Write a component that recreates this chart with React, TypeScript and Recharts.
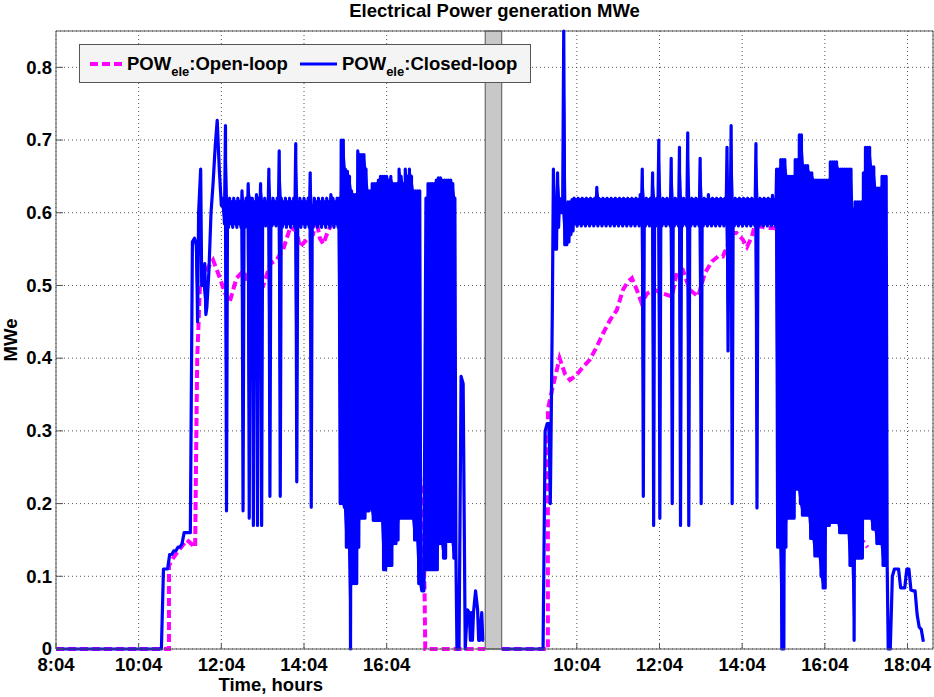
import React from 'react';
import {
  ComposedChart,
  Line,
  Area,
  XAxis,
  YAxis,
  CartesianGrid,
  ReferenceArea,
  ReferenceLine,
  Legend,
  Label,
} from 'recharts';

const FONT = '"Liberation Sans", Arial, Helvetica, sans-serif';

// ---- time axis (minutes after midnight) ----
const day1Start = 484; // 8:04
const day1End = 1107; // 18:27
const day2Start = 495; // 8:15
const day2End = 1121; // 18:41
const sampleStep = 3; // minutes per closed-loop bin
const day2Shift = 636; // day-2 clock minutes are placed after day 1 on one shared axis

const yTicks = [0, 0.1, 0.2, 0.3, 0.4, 0.5, 0.6, 0.7, 0.8];
const day1TickLabels = ['8:04', '10:04', '12:04', '14:04', '16:04'];
const day2TickLabels = ['10:04', '12:04', '14:04', '16:04', '18:04'];

// ---- closed-loop electrical power (MWe), 3-min bins; a pair = two readings inside the bin, in order ----
type Bin = number | number[];

const closedLoopDay1: Bin[] = [
  0, 0, 0, 0, 0, 0, 0, 0, 0, 0, 0, 0, 0, 0, 0, 0, 0, 0, 0, 0,
  0, 0, 0, 0, 0, 0, 0, 0, 0, 0, 0, 0, 0, 0, 0, 0, 0, 0, 0, 0,
  0, 0, 0, 0, 0, 0, 0, 0, 0, 0, 0, 0,
  0.11, 0.11, 0.11, 0.13, 0.13, 0.135, 0.135, 0.14, 0.14, 0.145, 0.16, 0.16, 0.16, 0.16,
  0.56, 0.565, [0.555, 0.45], 0.6, [0.66, 0.5], 0.5, [0.53, 0.46], 0.47, 0.52, 0.6, 0.64, 0.69, 0.727, 0.66, 0.61,
  [0.62, 0.585], [0.72, 0.19], [0.615, 0.58], [0.62, 0.585], [0.615, 0.58], [0.62, 0.585], [0.615, 0.58],
  [0.62, 0.585], [0.615, 0.58], [0.63, 0.19], [0.615, 0.58], [0.62, 0.585], [0.64, 0.18], [0.62, 0.585],
  [0.62, 0.17], [0.615, 0.585], [0.625, 0.17], [0.62, 0.585], [0.64, 0.17], [0.615, 0.585],
  [0.62, 0.582], [0.615, 0.585], [0.66, 0.21], [0.615, 0.582], [0.62, 0.585], [0.615, 0.582], [0.62, 0.585],
  [0.685, 0.21], [0.62, 0.58], [0.615, 0.585], [0.62, 0.58], [0.615, 0.585], [0.62, 0.58], [0.615, 0.585],
  [0.62, 0.58], [0.695, 0.23], [0.615, 0.585], [0.62, 0.58], [0.615, 0.585], [0.62, 0.58],
  [0.615, 0.585], [0.62, 0.58], [0.655, 0.195], [0.61, 0.58], [0.62, 0.585], [0.615, 0.58], [0.62, 0.585],
  [0.615, 0.58], [0.62, 0.585], [0.615, 0.58], [0.62, 0.585], [0.615, 0.58], [0.625, 0.585], [0.62, 0.58],
  [0.615, 0.585], [0.62, 0.58],
  [0.62, 0.2], [0.7, 0.2], [0.7, 0.195], [0.66, 0.14], [0.657, 0.14], [0.65, 0], [0.63, 0.09], [0.625, 0.09],
  [0.625, 0.09], [0.685, 0.14], [0.68, 0.18], [0.68, 0.18], [0.68, 0.18], [0.66, 0.19], [0.63, 0.19],
  [0.63, 0.193], [0.64, 0.177], [0.64, 0.177], [0.64, 0.177], [0.645, 0.177], [0.65, 0.177], [0.65, 0.109],
  [0.65, 0.109], [0.65, 0.115], [0.645, 0.115], [0.65, 0.115], [0.64, 0.145], [0.64, 0.145], [0.64, 0.15],
  [0.66, 0.18], [0.65, 0.18], [0.64, 0.18], [0.66, 0.18], [0.65, 0.18], [0.66, 0.18], [0.65, 0.18],
  [0.63, 0.15], [0.63, 0.15], [0.63, 0.09], [0.63, 0.09], 0.08, 0.08,
  [0.62, 0.109], [0.64, 0.109], [0.64, 0.109], [0.64, 0.109], [0.64, 0.109], [0.645, 0.109], [0.648, 0.145],
  [0.648, 0.145], [0.645, 0.125], [0.645, 0.125], [0.645, 0.148], [0.645, 0.148], [0.645, 0.148],
  [0.64, 0.125], [0.62, 0.13],
  0, 0, 0.375, 0.365, 0, 0.054, [0.05, 0.012], [0.05, 0.012], 0.05, 0.08, [0.054, 0.012], 0.012,
  [0.05, 0.012], 0.012,
];

const closedLoopDay2: Bin[] = [
  0, 0, 0, 0, 0, 0, 0, 0, 0, 0, 0, 0, 0, 0, 0, 0, 0, 0, 0, 0, 0,
  0.3, 0.31, [0.31, 0.2], [0.33, 0.47], [0.66, 0.55], [0.62, 0.55], [0.655, 0.58], [0.62, 0.6], [0.6, 0.62],
  [0.85, 0.556], [0.61, 0.556], [0.615, 0.56], [0.615, 0.57], [0.618, 0.575],
  [0.62, 0.585], [0.618, 0.582], [0.62, 0.585], [0.618, 0.582], [0.62, 0.585], [0.618, 0.582], [0.62, 0.585],
  [0.618, 0.582], [0.62, 0.585], [0.618, 0.582], [0.62, 0.585], [0.635, 0.582], [0.62, 0.585], [0.618, 0.582],
  [0.62, 0.585], [0.618, 0.582], [0.62, 0.585], [0.618, 0.582], [0.62, 0.585], [0.618, 0.582], [0.62, 0.585],
  [0.618, 0.582], [0.62, 0.585], [0.618, 0.582], [0.62, 0.585], [0.618, 0.582], [0.62, 0.585], [0.618, 0.582],
  [0.62, 0.585], [0.618, 0.582], [0.62, 0.585], [0.618, 0.582], [0.625, 0.585],
  [0.66, 0.21], [0.618, 0.582], [0.62, 0.585], [0.618, 0.582], [0.62, 0.585], [0.655, 0.17], [0.618, 0.582],
  [0.62, 0.585], [0.7, 0.18], [0.618, 0.582], [0.62, 0.585], [0.618, 0.582], [0.62, 0.585], [0.618, 0.582],
  [0.675, 0.2], [0.618, 0.582], [0.62, 0.585], [0.618, 0.582], [0.69, 0.17], [0.618, 0.582], [0.62, 0.585],
  [0.618, 0.582], [0.71, 0.17], [0.618, 0.582], [0.62, 0.585], [0.618, 0.582], [0.62, 0.585], [0.618, 0.582],
  [0.675, 0.2],
  [0.618, 0.582], [0.62, 0.585], [0.618, 0.582], [0.625, 0.585], [0.618, 0.582], [0.62, 0.585], [0.618, 0.582],
  [0.62, 0.585], [0.618, 0.582], [0.62, 0.585], [0.618, 0.582], [0.62, 0.585],
  [0.69, 0.41], [0.618, 0.582], [0.72, 0.2],
  [0.618, 0.582], [0.62, 0.585], [0.618, 0.582], [0.62, 0.585], [0.618, 0.582], [0.62, 0.585], [0.618, 0.582],
  [0.62, 0.585], [0.618, 0.582], [0.62, 0.585], [0.618, 0.582],
  [0.695, 0.194],
  [0.618, 0.582], [0.62, 0.585], [0.618, 0.582], [0.62, 0.585], [0.618, 0.582], [0.62, 0.585], [0.618, 0.582],
  [0.624, 0.585], [0.618, 0.582],
  [0.66, 0.14], [0.66, 0.14], [0.673, 0], [0.673, 0], [0.673, 0.14], [0.65, 0.18], [0.65, 0.18], [0.65, 0.18],
  [0.65, 0.18], [0.673, 0.22], [0.673, 0.22], [0.707, 0.2], [0.707, 0.184], [0.665, 0.184], [0.665, 0.184],
  [0.665, 0.184], [0.655, 0.152], [0.655, 0.152], [0.645, 0.128], [0.645, 0.128], [0.645, 0.128], [0.645, 0.1],
  [0.645, 0.084], [0.645, 0.084], [0.645, 0.17], [0.645, 0.17], [0.67, 0.174], [0.67, 0.174], [0.67, 0.174],
  [0.67, 0.174], [0.66, 0.16], [0.66, 0.16], [0.66, 0.16], [0.66, 0.16], [0.66, 0.16], [0.66, 0.115],
  [0.66, 0.115], [0.605, 0.012], [0.615, 0.125], [0.615, 0.125], [0.615, 0.125], [0.615, 0.125], [0.655, 0.18],
  [0.69, 0.18], [0.69, 0.18], [0.69, 0.18], [0.663, 0.165], [0.663, 0.165], [0.634, 0.145], [0.634, 0.145],
  [0.634, 0.145], [0.65, 0.115], [0.65, 0.115], [0.65, 0.115], 0, 0,
  0.1, 0.11, 0.11, 0.11, 0.084, 0.084, 0.084, 0.11, 0.11, 0.081, 0.08, 0.08, 0.047, 0.03, 0.027, 0.01,
];

// ---- open-loop electrical power (MWe): [clock minutes, value] ----
const openLoopDay1: [number, number][] = [
  [484, 0], [648, 0], [648, 0.115], [654, 0.125], [664, 0.138], [674, 0.15], [686, 0.14],
  [688, 0.32], [689, 0.4], [693, 0.5], [698, 0.51], [705, 0.525], [712, 0.535], [722, 0.51],
  [729, 0.49], [736, 0.477], [746, 0.51], [756, 0.52], [765, 0.5], [775, 0.505], [785, 0.5],
  [795, 0.53], [804, 0.535], [814, 0.55], [824, 0.58], [833, 0.575], [838, 0.553], [848, 0.563],
  [857, 0.57], [862, 0.59], [867, 0.565], [872, 0.557], [877, 0.57], [884, 0.585], [891, 0.605],
  [903, 0.58], [925, 0.5], [951, 0.43], [976, 0.38], [998, 0.3], [1012, 0.24], [1016, 0.2],
  [1019, 0.08], [1020, 0], [1107, 0],
];

const openLoopDay2: [number, number][] = [
  [495, 0], [562, 0], [562, 0.33], [569, 0.36], [579, 0.4], [587, 0.378], [594, 0.37], [603, 0.376],
  [613, 0.388], [623, 0.398], [633, 0.416], [642, 0.434], [652, 0.452], [662, 0.466], [671, 0.494],
  [678, 0.505], [684, 0.51], [691, 0.494], [698, 0.476], [706, 0.489], [717, 0.494], [729, 0.489],
  [742, 0.485], [749, 0.517], [758, 0.521], [768, 0.494], [780, 0.485], [790, 0.517], [800, 0.533],
  [809, 0.54], [816, 0.54], [822, 0.553], [829, 0.572], [836, 0.572], [845, 0.563], [851, 0.553],
  [858, 0.567], [862, 0.581], [870, 0.581], [881, 0.579], [891, 0.579], [899, 0.576], [903, 0.535],
  [906, 0.494], [932, 0.4], [971, 0.33], [1012, 0.28], [1018, 0.15], [1026, 0.14],
];

// ---- derived tables ----
const toMinutes = (label: string) => {
  const [h, m] = label.split(':').map(Number);
  return h * 60 + m;
};

const xTicks = [
  ...day1TickLabels.map(toMinutes),
  ...day2TickLabels.map((l) => toMinutes(l) + day2Shift),
];
const xTickText: Record<number, string> = {};
day1TickLabels.forEach((l) => (xTickText[toMinutes(l)] = l));
day2TickLabels.forEach((l) => (xTickText[toMinutes(l) + day2Shift] = l));

// a bin's readings are spread evenly across its 3 minutes
const expandBins = (bins: Bin[], start: number, shift: number) =>
  bins.flatMap((b, i) => {
    const readings = Array.isArray(b) ? b : [b];
    return readings.map((v, k) => ({
      t: start + i * sampleStep + shift + (k * sampleStep) / readings.length,
      v,
    }));
  });

// min–max envelope of each bin (filled, so dense oscillation reads as a solid band)
const envelope = (bins: Bin[], start: number, shift: number) =>
  bins.map((b, i) => {
    const readings = Array.isArray(b) ? b : [b];
    return {
      t: start + i * sampleStep + shift + (readings.length > 1 ? sampleStep / 4 : 0),
      range: [Math.min(...readings), Math.max(...readings)],
    };
  });

const closedDay1Data = expandBins(closedLoopDay1, day1Start, 0);
const closedDay2Data = expandBins(closedLoopDay2, day2Start, day2Shift);
const closedDay1Env = envelope(closedLoopDay1, day1Start, 0);
const closedDay2Env = envelope(closedLoopDay2, day2Start, day2Shift);
const openDay1Data = openLoopDay1.map(([m, v]) => ({ t: m, v }));
const openDay2Data = openLoopDay2.map(([m, v]) => ({ t: m + day2Shift, v }));

const xDomain = [day1Start, day2End + day2Shift];
const gapStart = day1End;
const gapEnd = day2Start + day2Shift;

const MAGENTA = '#ff00ff';
const BLUE = '#0000ff';
const FRAME = '#555555';

const XTick = (props: any) => {
  const { x, y, payload } = props;
  return (
    <g>
      <line x1={x} y1={y} x2={x} y2={y - 6} stroke={FRAME} strokeWidth={1} />
      <text x={x} y={y + 22} textAnchor="middle" fontFamily={FONT} fontWeight="bold" fontSize={18.5} fill="#000">
        {xTickText[payload.value]}
      </text>
    </g>
  );
};

const YTick = (props: any) => {
  const { x, y, payload } = props;
  return (
    <g>
      <line x1={x + 4} y1={y} x2={x + 11} y2={y} stroke={FRAME} strokeWidth={1} />
      <text x={x} y={y} dy={6.3} textAnchor="end" fontFamily={FONT} fontWeight="bold" fontSize={18.5} fill="#000">
        {String(payload.value)}
      </text>
    </g>
  );
};

const Sub = ({ children }: { children: React.ReactNode }) => (
  <span style={{ fontSize: 13, position: 'relative', top: 6 }}>{children}</span>
);

const LegendBox = () => (
  <div
    style={{
      boxSizing: 'border-box',
      width: 452,
      height: 39,
      border: '1px solid #555',
      background: '#f4f4f4',
      display: 'flex',
      alignItems: 'center',
      fontFamily: FONT,
      fontWeight: 'bold',
      fontSize: 18.5,
      color: '#000',
      whiteSpace: 'nowrap',
    }}
  >
    <svg width={32} height={8} style={{ marginLeft: 10 }}>
      <line x1={0} y1={4} x2={32} y2={4} stroke={MAGENTA} strokeWidth={4} strokeDasharray="8 4" />
    </svg>
    <span style={{ marginLeft: 5 }}>
      POW<Sub>ele</Sub>:Open-loop
    </span>
    <svg width={37} height={8} style={{ marginLeft: 12 }}>
      <line x1={0} y1={4} x2={37} y2={4} stroke={BLUE} strokeWidth={3} />
    </svg>
    <span style={{ marginLeft: 5 }}>
      POW<Sub>ele</Sub>:Closed-loop
    </span>
  </div>
);

export default function App() {
  return (
    <div style={{ position: 'absolute', left: 0, top: 0, width: 934, height: 697, background: '#fff' }}>
      <div
        style={{
          position: 'absolute',
          left: 56,
          top: 0,
          width: 877,
          textAlign: 'center',
          fontFamily: FONT,
          fontWeight: 'bold',
          fontSize: 18.5,
          lineHeight: '21px',
          color: '#000',
        }}
      >
        Electrical Power generation MWe
      </div>
      <ComposedChart width={934} height={697} margin={{ top: 31, right: 1, bottom: 0, left: 0 }}>
        <CartesianGrid stroke="#555" strokeDasharray="1 3" />
        <XAxis
          type="number"
          dataKey="t"
          domain={xDomain}
          ticks={xTicks}
          interval={0}
          height={48}
          tickSize={0}
          tickMargin={0}
          tickLine={false}
          axisLine={{ stroke: FRAME }}
          tick={<XTick />}
        >
          <Label
            content={() => (
              <text x={270.7} y={691} textAnchor="middle" fontFamily={FONT} fontWeight="bold" fontSize={18.5} fill="#000">
                Time, hours
              </text>
            )}
          />
        </XAxis>
        <YAxis
          type="number"
          domain={[0, 0.85]}
          ticks={yTicks}
          interval={0}
          width={56}
          tickSize={0}
          tickMargin={4}
          tickLine={false}
          axisLine={{ stroke: FRAME }}
          tick={<YTick />}
        >
          <Label
            content={() => (
              <text
                transform="translate(17,340) rotate(-90)"
                textAnchor="middle"
                fontFamily={FONT}
                fontWeight="bold"
                fontSize={18.5}
                fill="#000"
              >
                MWe
              </text>
            )}
          />
        </YAxis>
        <ReferenceLine y={0.85} stroke={FRAME} strokeWidth={1} />
        <ReferenceLine x={xDomain[1]} stroke={FRAME} strokeWidth={1} />
        <ReferenceArea
          x1={gapStart}
          x2={gapEnd}
          y1={0}
          y2={0.85}
          fill="#c8c8c8"
          fillOpacity={1}
          stroke={FRAME}
          strokeWidth={1}
        />
        <Line
          data={openDay1Data}
          dataKey="v"
          type="linear"
          stroke={MAGENTA}
          strokeWidth={4}
          strokeDasharray="8 4"
          dot={false}
          isAnimationActive={false}
        />
        <Line
          data={openDay2Data}
          dataKey="v"
          type="linear"
          stroke={MAGENTA}
          strokeWidth={4}
          strokeDasharray="8 4"
          dot={false}
          isAnimationActive={false}
        />
        <Line
          data={closedDay1Data}
          dataKey="v"
          type="linear"
          stroke={BLUE}
          strokeWidth={3.2}
          strokeLinejoin="round"
          dot={false}
          isAnimationActive={false}
        />
        <Line
          data={closedDay2Data}
          dataKey="v"
          type="linear"
          stroke={BLUE}
          strokeWidth={3.2}
          strokeLinejoin="round"
          dot={false}
          isAnimationActive={false}
        />
        <Area
          data={closedDay1Env}
          dataKey="range"
          type="linear"
          stroke="none"
          fill={BLUE}
          fillOpacity={1}
          dot={false}
          activeDot={false}
          isAnimationActive={false}
        />
        <Area
          data={closedDay2Env}
          dataKey="range"
          type="linear"
          stroke="none"
          fill={BLUE}
          fillOpacity={1}
          dot={false}
          activeDot={false}
          isAnimationActive={false}
        />
        <Legend
          layout="horizontal"
          verticalAlign="middle"
          align="center"
          wrapperStyle={{ left: 79, top: 44, width: 452, height: 39 }}
          content={() => <LegendBox />}
        />
      </ComposedChart>
    </div>
  );
}
